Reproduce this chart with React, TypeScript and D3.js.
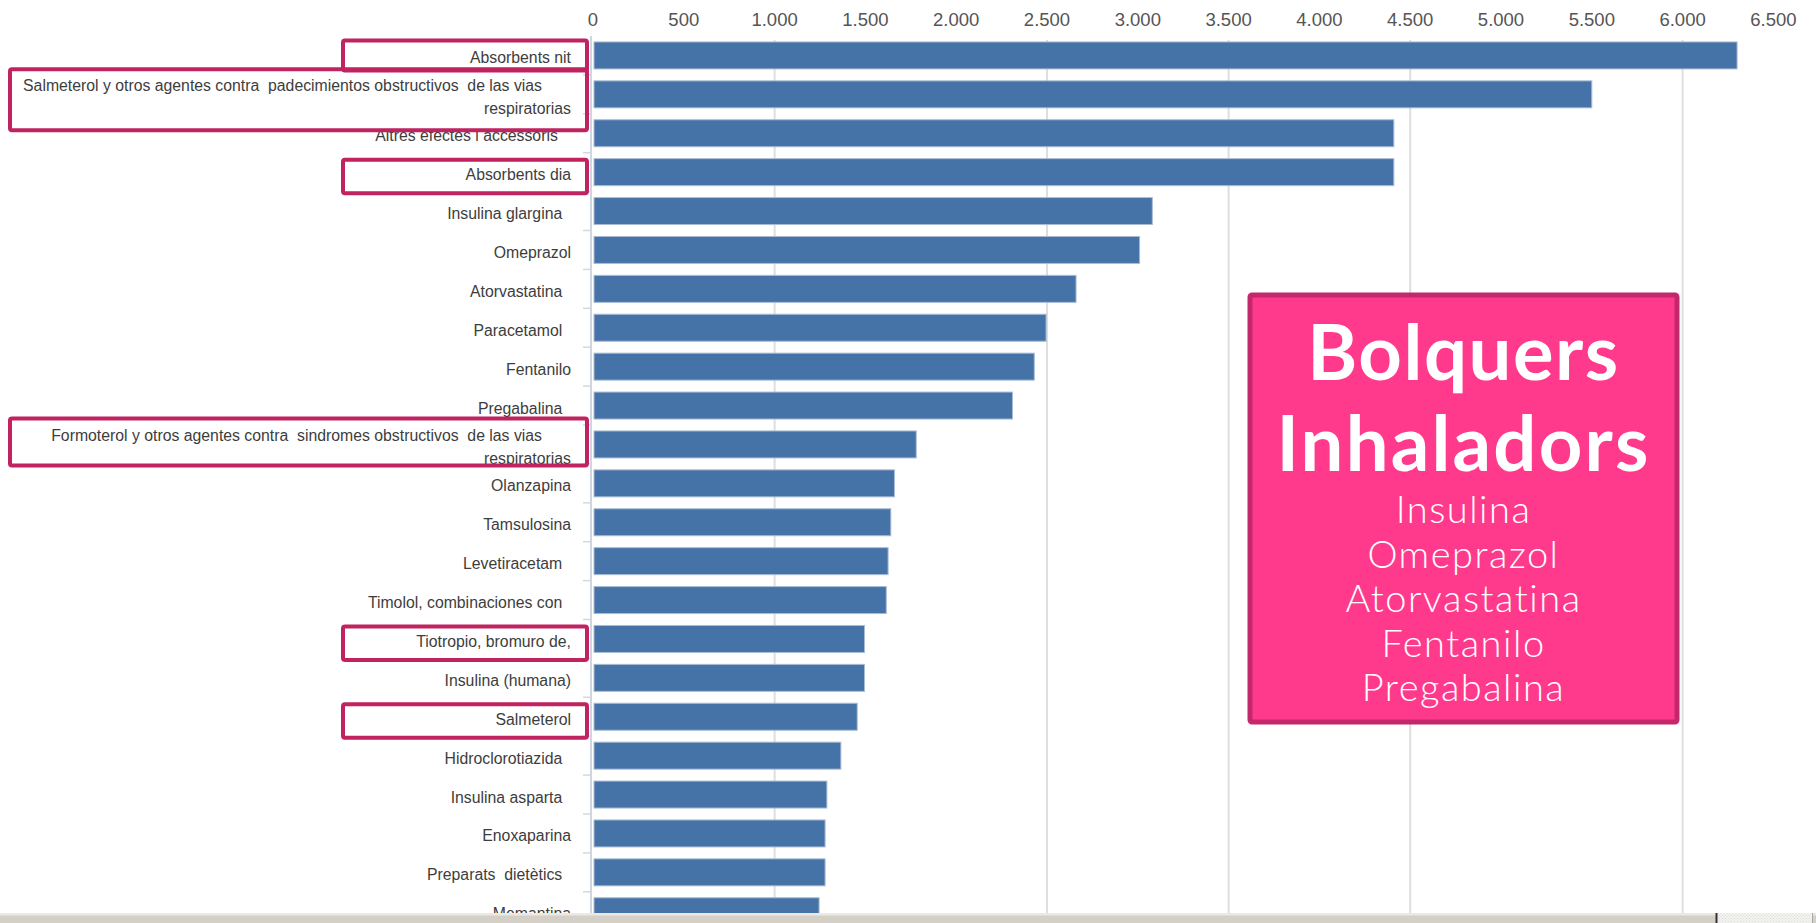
import React from "react";
import * as d3 from "d3";

const CATEGORIES = [
  "Absorbents nit",
  "Salmeterol y otros agentes contra  padecimientos obstructivos  de las vias respiratorias",
  "Altres efectes i accessoris   ",
  "Absorbents dia",
  "Insulina glargina  ",
  "Omeprazol",
  "Atorvastatina  ",
  "Paracetamol  ",
  "Fentanilo",
  "Pregabalina  ",
  "Formoterol y otros agentes contra  sindromes obstructivos  de las vias respiratorias",
  "Olanzapina",
  "Tamsulosina",
  "Levetiracetam  ",
  "Timolol, combinaciones con  ",
  "Tiotropio, bromuro de,",
  "Insulina (humana)",
  "Salmeterol",
  "Hidroclorotiazida  ",
  "Insulina asparta  ",
  "Enoxaparina",
  "Preparats  dietètics  ",
  "Memantina",
];

const VALUES = [
  6300, 5500, 4410, 4410, 3080, 3010, 2660, 2495, 2430, 2310, 1780, 1660, 1640,
  1625, 1615, 1495, 1495, 1455, 1365, 1288, 1278, 1278, 1245,
];

const TICKS = [0, 500, 1000, 1500, 2000, 2500, 3000, 3500, 4000, 4500, 5000, 5500, 6000, 6500];
const GRID_VALUES = [1000, 2500, 3500, 4500, 6000];

const HIGHLIGHTED = [
  "Absorbents nit",
  "Salmeterol y otros agentes contra  padecimientos obstructivos  de las vias respiratorias",
  "Absorbents dia",
  "Formoterol y otros agentes contra  sindromes obstructivos  de las vias respiratorias",
  "Tiotropio, bromuro de,",
  "Salmeterol",
];

const NOTE_TITLE = ["Bolquers", "Inhaladors"];
const NOTE_ITEMS = ["Insulina", "Omeprazol", "Atorvastatina", "Fentanilo", "Pregabalina"];

const W = 1816;
const H = 923;

const locale = d3.formatLocale({ decimal: ",", thousands: ".", grouping: [3], currency: ["", "€"] });
const fmt = locale.format(",d");

function wrap(label: string, maxChars: number): string[] {
  if (label.length <= maxChars) return [label];
  const words = label.split(" ");
  const lines: string[] = [];
  let cur = "";
  for (const w of words) {
    const next = cur === "" ? w : cur + " " + w;
    if (next.length > maxChars && cur !== "") {
      lines.push(cur);
      cur = w;
    } else {
      cur = next;
    }
  }
  if (cur) lines.push(cur);
  return lines;
}

export default function App() {
  const x = d3.scaleLinear().domain([0, 6500]).range([593, 1773.4]);
  const step = 38.9;
  const r0 = 36;
  const y = d3
    .scaleBand<string>()
    .domain(CATEGORIES)
    .range([r0, r0 + step * CATEGORIES.length])
    .paddingInner(0.306)
    .paddingOuter(0.153);
  const bw = y.bandwidth();
  const center = (c: string) => (y(c) as number) + bw / 2;
  const plotTop = 40;
  const plotBottom = 913;

  const labelX = 571;

  // highlight box geometry (annotation layout)
  const boxGeom = (name: string) => {
    const c = center(name);
    const long = name.length > 40;
    const idx = CATEGORIES.indexOf(name);
    if (idx === 0) return { x0: 343, x1: 587, y0: c - 15, y1: c + 15 };
    if (long && idx === 1) return { x0: 10, x1: 587, y0: c - 25, y1: c + 36 };
    if (long) return { x0: 10, x1: 587, y0: c - 26, y1: c + 21 };
    return { x0: 343, x1: 587, y0: c - 12.5, y1: c + 21 };
  };

  const noteX0 = 1250;
  const noteX1 = 1677;
  const noteCx = (noteX0 + noteX1) / 2;

  return (
    <svg
      width={W}
      height={H}
      style={{ position: "absolute", left: 0, top: 0, background: "#fff" }}
      xmlns="http://www.w3.org/2000/svg"
    >
      <defs>
        <pattern id="dots" width="3" height="3" patternUnits="userSpaceOnUse">
          <rect width="3" height="3" fill="#f4f4f2" />
          <rect width="1" height="1" fill="#d8d8d4" />
          <rect x="1.5" y="1.5" width="1" height="1" fill="#d8d8d4" />
        </pattern>
      </defs>
      <rect width={W} height={H} fill="#fff" />

      {/* gridlines */}
      {GRID_VALUES.map((v) => (
        <line key={v} x1={x(v)} x2={x(v)} y1={plotTop} y2={plotBottom} stroke="#dedede" strokeWidth={2} />
      ))}

      {/* tick labels */}
      {TICKS.map((t) => (
        <text
          key={t}
          x={x(t)}
          y={19}
          textAnchor="middle"
          dominantBaseline="central"
          fontFamily="'Liberation Sans', Arial, sans-serif"
          fontSize={18.5}
          fill="#555"
        >
          {fmt(t)}
        </text>
      ))}

      {/* y axis line */}
      <line x1={591} x2={591} y1={36} y2={plotBottom} stroke="#cfd6df" strokeWidth={2} />
      {CATEGORIES.map((c, i) =>
        i === 0 ? null : (
          <line
            key={"t" + i}
            x1={583}
            x2={591}
            y1={(y(c) as number) - (step - bw) / 2}
            y2={(y(c) as number) - (step - bw) / 2}
            stroke="#cfd8e4"
            strokeWidth={1.5}
          />
        )
      )}

      {/* bars */}
      {CATEGORIES.map((c, i) => (
        <rect
          key={"b" + i}
          x={x(0) + 1}
          y={y(c)}
          width={x(VALUES[i]) - x(0) - 1}
          height={bw}
          fill="#4673a7"
          stroke="#a9bdd6"
          strokeWidth={1}
        />
      ))}

      {/* category labels */}
      {CATEGORIES.map((c, i) => {
        const lines = wrap(c, 75);
        const cy = center(c) + 2.5;
        const lh = 23.5;
        return lines.map((ln, j) => (
          <text
            key={"l" + i + "-" + j}
            x={labelX - (j < lines.length - 1 ? 29 : 0)}
            y={cy + (j - (lines.length - 1) / 2) * lh}
            textAnchor="end"
            dominantBaseline="central"
            fontFamily="'Liberation Sans', Arial, sans-serif"
            fontSize={15.8}
            fill="#3d3d3d"
            style={{ whiteSpace: "pre" }}
          >
            {ln}
          </text>
        ));
      })}

      {/* highlight boxes */}
      {HIGHLIGHTED.map((name) => {
        const g = boxGeom(name);
        return (
          <rect
            key={"h" + name}
            x={g.x0}
            y={g.y0}
            width={g.x1 - g.x0}
            height={g.y1 - g.y0}
            rx={2}
            fill="none"
            stroke="#c0235f"
            strokeWidth={4}
          />
        );
      })}

      {/* note box */}
      <rect
        x={noteX0}
        y={295}
        width={noteX1 - noteX0}
        height={427}
        rx={2}
        fill="#ff3a8c"
        stroke="#c4286a"
        strokeWidth={5}
      />
      {NOTE_TITLE.map((t, i) => (
        <text
          key={"nt" + i}
          x={noteCx}
          y={380 + i * 91}
          textAnchor="middle"
          fontFamily="Lato, 'Open Sans', sans-serif"
          fontWeight={700}
          fontSize={76}
          letterSpacing={i === 1 ? 2.2 : 1.5}
          fill="#fff"
        >
          {t}
        </text>
      ))}
      {NOTE_ITEMS.map((t, i) => (
        <text
          key={"ni" + i}
          x={noteCx}
          y={523 + i * 44.5}
          textAnchor="middle"
          fontFamily="Lato, 'Open Sans', sans-serif"
          fontWeight={300}
          fontSize={38}
          letterSpacing={1.5}
          fill="#fff"
        >
          {t}
        </text>
      ))}

      {/* bottom scrollbar band */}
      <rect x={0} y={913} width={W} height={10} fill="#d4d0c8" />
      <rect x={0} y={913} width={W} height={2.5} fill="#ece9e3" />
      <rect x={1717} y={913} width={95} height={10} fill="url(#dots)" />
      <line x1={1716.5} x2={1716.5} y1={913} y2={923} stroke="#333" strokeWidth={2} />
      <line x1={1812.5} x2={1812.5} y1={913} y2={923} stroke="#aaa" strokeWidth={1} />
    </svg>
  );
}
